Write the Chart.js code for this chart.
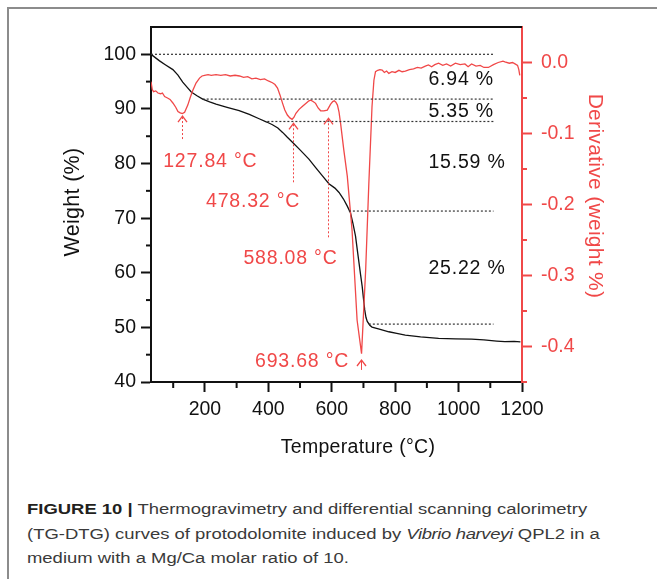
<!DOCTYPE html>
<html>
<head>
<meta charset="utf-8">
<script src="https://cdn.jsdelivr.net/npm/chart.js@4.4.1/dist/chart.umd.min.js"></script>
<style>
  html, body { margin: 0; padding: 0; background: #fff; }
  body { width: 657px; height: 579px; position: relative; overflow: hidden; font-family: 'Liberation Sans', Arial, sans-serif; }
  .frame { position: absolute; left: 7px; top: 7px; right: -10px; bottom: -10px; border-left: 2px solid #8c8c8c; border-top: 2px solid #8c8c8c; }
  .wrap { position: absolute; left: 0; top: 0; width: 657px; height: 470px; }
  .caption { position: absolute; left: 27px; top: 497px; font-size: 15.5px; line-height: 24.5px; color: #3a3a3a;
             transform: scaleX(1.19); transform-origin: 0 0; white-space: nowrap; }
  .caption b { color: #231f20; }
  .caption i { letter-spacing: -0.3px; }
</style>
</head>
<body>
<div class="frame"></div>
<div class="wrap"><canvas id="tg"></canvas></div>
<div class="caption">
  <b>FIGURE 10 |</b> Thermogravimetry and differential scanning calorimetry<br>
  (TG-DTG) curves of protodolomite induced by <i>Vibrio harveyi</i> QPL2 in a<br>
  medium with a Mg/Ca molar ratio of 10.
</div>
<script>
// TG curve (weight %)
const tgTemps = [30, 57, 75, 99, 115, 130, 145, 157, 175, 193, 215, 235, 270, 308, 340, 371, 395, 413, 430, 445,
  460, 476, 500, 528, 550, 570, 591, 610, 623, 637, 649, 659, 667, 675, 681, 686, 691, 696, 700, 704,
  708, 712, 720, 727, 750, 780, 805, 832, 880, 937, 990, 1041, 1080, 1120, 1146, 1175, 1195];
const tgWeights = [100, 98.8, 98.1, 97.2, 96.2, 94.9, 93.9, 93.1, 92.4, 91.8, 91.3, 90.9, 90.3, 89.7, 89.0, 88.2, 87.6, 87.1, 86.5, 85.7,
  84.8, 83.9, 82.5, 80.8, 79.2, 77.8, 76.3, 75.5, 74.7, 73.5, 72.2, 71.0, 69.0, 66.7, 64.0, 61.8, 59.6, 57.5, 55.3, 53.2,
  51.8, 51.1, 50.4, 50.05, 49.7, 49.2, 48.9, 48.6, 48.25, 48.0, 47.9, 47.85, 47.7, 47.5, 47.4, 47.45, 47.35];

// DTG curve (derivative, weight %)
const dtgTemps = [30, 34, 38, 45, 52, 60, 66, 73, 82, 90, 99, 108, 115, 122, 129, 136, 146, 154, 162, 172,
  183, 191, 199, 210, 220, 235, 250, 265, 280, 295, 309, 322, 335, 348, 361, 375, 388, 400, 413, 421,
  429, 437, 445, 452, 460, 468, 475, 481, 487, 497, 507, 520, 528, 534, 541, 549, 557, 565, 575, 586,
  596, 603, 608, 613, 618, 623, 628, 638, 649, 664, 680, 694, 707, 717, 727, 733, 738, 745, 752, 759,
  766, 773, 780, 790, 800, 812, 822, 832, 845, 858, 870, 882, 895, 905, 915, 925, 937, 950, 962, 975,
  990, 1005, 1020, 1030, 1041, 1055, 1068, 1080, 1094, 1110, 1125, 1140, 1146, 1160, 1170, 1178, 1186, 1190, 1193];
const dtgValues = [-0.027, -0.038, -0.041, -0.040, -0.043, -0.044, -0.043, -0.048, -0.050, -0.052, -0.057, -0.063, -0.069, -0.071, -0.072, -0.070, -0.060, -0.049, -0.039, -0.029,
  -0.022, -0.019, -0.018, -0.017, -0.018, -0.017, -0.018, -0.017, -0.019, -0.018, -0.019, -0.021, -0.020, -0.023, -0.022, -0.024, -0.023, -0.026, -0.0285, -0.031,
  -0.036, -0.046, -0.0575, -0.067, -0.074, -0.078, -0.080, -0.077, -0.0716, -0.066, -0.062, -0.057, -0.054, -0.053, -0.055, -0.0575, -0.064, -0.068, -0.068, -0.067,
  -0.059, -0.055, -0.054, -0.056, -0.060, -0.070, -0.086, -0.123, -0.16, -0.236, -0.363, -0.41, -0.292, -0.170, -0.062, -0.025, -0.013, -0.011, -0.010, -0.0106,
  -0.014, -0.012, -0.0153, -0.013, -0.014, -0.011, -0.013, -0.012, -0.010, -0.009, -0.007, -0.008, -0.005, -0.0035, -0.006, -0.003, -0.001, -0.004, -0.002, -0.005,
  -0.001, -0.003, -0.002, -0.006, -0.002, -0.005, -0.004, -0.007, -0.007, -0.003, 0.0, 0.002, 0.001, -0.001, 0.0, -0.002, -0.004, -0.010, -0.018];

// dotted step levels on the TG curve
const levelWeights = [100, 91.8, 87.7, 71.3, 50.6];
const levelStartTemps = [30, 193, 397, 654, 717];
const levelEndTemp = 1110;

// peak temperatures and mass-loss labels
const peakTemps = [127.84, 478.32, 588.08, 693.68];
const lossLabels = ['6.94 %', '5.35 %', '15.59 %', '25.22 %'];

const RED = '#f04848';
const INK = '#111';
const FONT = "'Liberation Sans', Arial, sans-serif";

const isMajorX = v => v % 200 === 0;
const isMajorW = v => v % 10 === 0 && v <= 100;
const isMajorD = v => { const r = Math.round(v * 100); return r % 10 === 0 && r <= 0; };

const datasets = levelWeights.map((w, i) => ({
  data: [{ x: levelStartTemps[i], y: w }, { x: levelEndTemp, y: w }],
  yAxisID: 'y', borderColor: '#333', borderWidth: 1.2, borderDash: [2, 2], pointRadius: 0
}));
datasets.push({
  data: dtgTemps.map((t, i) => ({ x: t, y: dtgValues[i] })),
  yAxisID: 'y2', borderColor: RED, borderWidth: 1.3, pointRadius: 0, tension: 0
});
datasets.push({
  data: tgTemps.map((t, i) => ({ x: t, y: tgWeights[i] })),
  yAxisID: 'y', borderColor: INK, borderWidth: 1.3, pointRadius: 0, tension: 0
});

// arrows / labels for each peak, placed in axis units
const peakNotes = [
  { tip: -0.0754, tail: -0.109, lx: 217, ly: -0.1397, align: 'center', dash: true },
  { tip: -0.0856, tail: -0.169, lx: 352, ly: -0.196, align: 'center', dash: true },
  { tip: -0.0786, tail: -0.248, lx: 470, ly: -0.276, align: 'center', dash: true },
  { tip: -0.419, tail: -0.433, lx: 655, ly: -0.4214, align: 'right', dash: false }
];
const lossSpots = [95.4, 89.5, 80.1, 60.8];
const lossTemp = 905;

const extras = {
  id: 'extras',
  afterDraw(chart) {
    const { ctx, chartArea: a, scales: { x, y, y2 } } = chart;
    ctx.save();
    // top frame
    ctx.strokeStyle = INK; ctx.lineWidth = 2;
    ctx.beginPath(); ctx.moveTo(a.left - 1, a.top); ctx.lineTo(a.right, a.top); ctx.stroke();

    // minor ticks
    const minor = (scale, test, color, dir) => {
      ctx.strokeStyle = color; ctx.lineWidth = 2;
      scale.ticks.forEach(t => {
        if (test(t.value)) return;
        const p = scale.getPixelForValue(t.value);
        ctx.beginPath();
        if (dir === 'down') { ctx.moveTo(p, a.bottom); ctx.lineTo(p, a.bottom + 6); }
        if (dir === 'left') { ctx.moveTo(a.left, p); ctx.lineTo(a.left - 5, p); }
        if (dir === 'right') { ctx.moveTo(a.right, p); ctx.lineTo(a.right + 5, p); }
        ctx.stroke();
      });
    };
    minor(x, isMajorX, INK, 'down');
    minor(y, v => isMajorW(v) || v > 100, INK, 'left');
    minor(y2, v => isMajorD(v) || v > 0.001, RED, 'right');

    ctx.font = '19.5px ' + FONT;
    ctx.textBaseline = 'middle';
    ctx.letterSpacing = '0.8px';

    // peak arrows
    peakTemps.forEach((t, i) => {
      const n = peakNotes[i];
      const px = Math.round(x.getPixelForValue(t)) + 0.5;
      const ty = y2.getPixelForValue(n.tip);
      const by = y2.getPixelForValue(n.tail);
      ctx.strokeStyle = RED; ctx.lineWidth = 1.3;
      ctx.beginPath(); ctx.moveTo(px - 4.5, ty + 6); ctx.lineTo(px, ty); ctx.lineTo(px + 4.5, ty + 6); ctx.stroke();
      ctx.lineWidth = 1;
      ctx.setLineDash(n.dash ? [2, 2] : []);
      ctx.beginPath(); ctx.moveTo(px, ty + 1); ctx.lineTo(px, by); ctx.stroke();
      ctx.setLineDash([]);
      ctx.fillStyle = RED; ctx.textAlign = n.align;
      ctx.fillText(t.toFixed(2) + ' °C', x.getPixelForValue(n.lx), y2.getPixelForValue(n.ly));
    });

    // mass-loss labels
    ctx.fillStyle = INK; ctx.textAlign = 'left';
    lossLabels.forEach((s, i) => ctx.fillText(s, x.getPixelForValue(lossTemp), y.getPixelForValue(lossSpots[i])));

    // axis titles
    ctx.textAlign = 'center';
    ctx.letterSpacing = '0.3px';
    ctx.fillText('Temperature (°C)', 358, 448);
    ctx.font = '21.5px ' + FONT;
    ctx.save(); ctx.translate(73, 202); ctx.rotate(-Math.PI / 2); ctx.fillText('Weight (%)', 0, 0); ctx.restore();
    ctx.font = '21px ' + FONT;
    ctx.fillStyle = RED;
    ctx.save(); ctx.translate(595, 196); ctx.rotate(Math.PI / 2); ctx.fillText('Derivative (weight %)', 0, 0); ctx.restore();
    ctx.restore();
  }
};

const tickFont = { family: FONT, size: 19.5 };

new Chart(document.getElementById('tg'), {
  type: 'line',
  data: { datasets },
  options: {
    responsive: true,
    maintainAspectRatio: false,
    animation: false,
    layout: { padding: { top: 27, left: 0, right: 0, bottom: 0 } },
    plugins: { legend: { display: false }, tooltip: { enabled: false } },
    scales: {
      x: {
        type: 'linear', min: 30, max: 1200,
        afterFit: s => { s.height = 88; },
        border: { display: true, color: INK, width: 2 },
        grid: { drawOnChartArea: false, tickLength: 10, tickWidth: 2,
                tickColor: c => isMajorX(c.tick.value) ? INK : 'transparent' },
        ticks: { stepSize: 100, includeBounds: false, autoSkip: false, maxRotation: 0, color: INK, font: tickFont, padding: 6,
                 callback: v => isMajorX(v) ? String(v) : '' }
      },
      y: {
        type: 'linear', position: 'left', min: 40, max: 105,
        afterFit: s => { s.width = 151; },
        border: { display: true, color: INK, width: 2 },
        grid: { drawOnChartArea: false, tickLength: 10, tickWidth: 2,
                tickColor: c => isMajorW(c.tick.value) ? INK : 'transparent' },
        ticks: { stepSize: 5, autoSkip: false, color: INK, font: tickFont, padding: 5,
                 callback: v => isMajorW(v) ? String(v) : '' }
      },
      y2: {
        type: 'linear', position: 'right', min: -0.45, max: 0.05,
        afterFit: s => { s.width = 135; },
        border: { display: true, color: RED, width: 2 },
        grid: { drawOnChartArea: false, tickLength: 10, tickWidth: 2,
                tickColor: c => isMajorD(c.tick.value) ? RED : 'transparent' },
        ticks: { stepSize: 0.05, autoSkip: false, color: RED, font: tickFont, padding: 9,
                 callback: v => isMajorD(v) ? (Math.round(v * 10) / 10).toFixed(1) : '' }
      }
    }
  },
  plugins: [extras]
});
</script>
</body>
</html>
